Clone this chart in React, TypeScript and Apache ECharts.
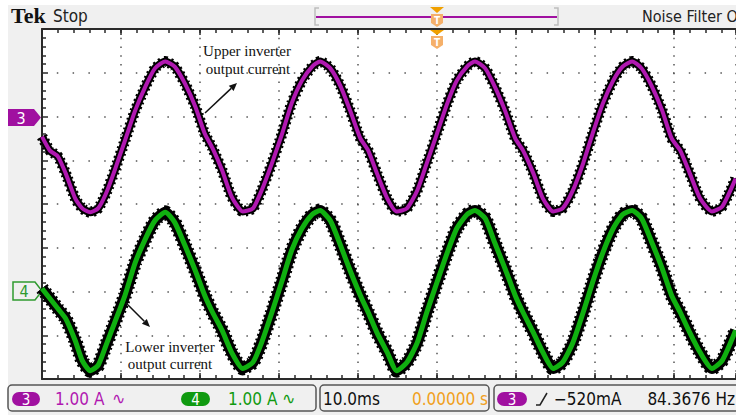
import React, { useEffect, useRef } from "react";
import * as echarts from "echarts";

// Time axis (ms), trigger at 0, 10 ms/div
const timeMs = [-50.0,-49.0,-48.0,-47.0,-45.8,-44.9,-43.9,-42.9,-41.9,-40.8,-39.5,-38.2,-36.9,-35.7,-34.4,-33.2,-31.9,-30.6,-29.4,-28.4,-27.2,-26.0,-24.6,-23.3,-22.2,-20.9,-19.6,-18.4,-17.1,-15.8,-14.8,-13.5,-12.2,-11.0,-9.7,-8.7,-7.6,-6.3,-5.1,-3.8,-2.5,-1.3,0.0,1.3,2.5,3.8,4.8,6.1,7.3,8.6,9.9,10.9,12.2,13.4,14.7,15.9,17.2,18.5,19.7,21.0,22.3,23.5,24.7,25.9,27.2,28.5,29.7,30.8,32.0,33.3,34.8,36.1,37.8];

// Channel 3 — upper inverter output current (A)
const ch3Amps = [-0.46,-0.78,-0.91,-1.30,-1.87,-2.10,-2.19,-2.10,-1.76,-1.23,-0.55,0.14,0.69,1.10,1.26,1.14,0.75,0.23,-0.39,-0.73,-1.23,-1.83,-2.17,-2.10,-1.69,-1.07,-0.39,0.30,0.82,1.14,1.26,1.10,0.69,0.14,-0.50,-0.78,-1.30,-1.87,-2.17,-2.10,-1.69,-1.07,-0.39,0.30,0.82,1.14,1.26,1.10,0.69,0.14,-0.50,-0.78,-1.30,-1.87,-2.17,-2.10,-1.69,-1.07,-0.39,0.30,0.82,1.14,1.26,1.10,0.69,0.14,-0.50,-0.78,-1.30,-1.87,-2.17,-2.06,-1.42];

// Channel 4 — lower inverter output current (A)
const ch4Amps = [0.07,-0.16,-0.39,-0.62,-1.12,-1.58,-1.81,-1.69,-1.23,-0.71,-0.09,0.66,1.21,1.62,1.81,1.58,1.05,0.48,-0.09,-0.48,-0.89,-1.39,-1.76,-1.62,-1.17,-0.48,0.25,0.94,1.44,1.76,1.85,1.62,1.05,0.48,-0.09,-0.48,-0.94,-1.39,-1.81,-1.62,-1.17,-0.48,0.21,0.89,1.44,1.76,1.85,1.67,1.12,0.53,-0.09,-0.48,-0.94,-1.39,-1.76,-1.62,-1.17,-0.48,0.21,0.89,1.44,1.76,1.85,1.67,1.12,0.53,-0.09,-0.48,-0.94,-1.39,-1.76,-1.58,-0.89];

const CH3_POS_DIV = 2;
const CH4_POS_DIV = -2;
const AMPS_PER_DIV = 1.0;
const X_MIN_MS = -50;
const X_VISIBLE_MAX_MS = 37.85; // screen is cut at the right
const MS_PER_DIV = 10;

const statusTexts = {
  ch3Scale: "1.00 A",
  ch4Scale: "1.00 A",
  timebase: "10.0ms",
  delay: "0.00000 s",
  trigLevel: "\u2212520mA",
  freq: "84.3676 Hz",
};

const NARROW = "'Liberation Sans Narrow', 'DejaVu Sans Condensed', 'Roboto Condensed', sans-serif";
const SERIF = "'Liberation Serif', 'Times New Roman', serif";
const MAG = "#b018b0";
const MAG_DARK = "#a010a0";
const GRN = "#10b010";
const GRN_DARK = "#109a10";
const FRAME = "#2a2a2a";

export default function App() {
  const ref = useRef<HTMLDivElement>(null);
  useEffect(() => {
    if (!ref.current) return;
    const chart = echarts.init(ref.current, undefined, { renderer: "svg" });
    const d3 = timeMs.map((t, i) => [t, ch3Amps[i] / AMPS_PER_DIV + CH3_POS_DIV]);
    const d4 = timeMs.map((t, i) => [t, ch4Amps[i] / AMPS_PER_DIV + CH4_POS_DIV]);
    const tickStyle = { color: FRAME, width: 1.5 };
    const xAx = (position: string, interval: number, len: number, line: boolean, split: boolean) => ({
      type: "value" as const,
      min: X_MIN_MS,
      max: X_VISIBLE_MAX_MS,
      interval,
      position,
      axisLabel: { show: false },
      axisLine: { show: line, onZero: false, lineStyle: { color: FRAME, width: 2 } },
      axisTick: { show: true, inside: true, length: len, lineStyle: tickStyle },
      splitLine: split
        ? { show: true, lineStyle: { color: "#555", width: 1.5, type: [1.5, 7.25] } }
        : { show: false },
    });
    const yAx = (position: string, line: boolean, split: boolean) => ({
      type: "value" as const,
      min: -4,
      max: 4,
      interval: 1,
      position,
      axisLabel: { show: false },
      axisLine: { show: line, onZero: false, lineStyle: { color: FRAME, width: 2 } },
      axisTick: { show: line, inside: true, length: 6, lineStyle: tickStyle },
      minorTick: { show: line, splitNumber: 5, length: 4, lineStyle: tickStyle },
      splitLine: split
        ? { show: true, lineStyle: { color: "#555", width: 1.5, type: [1.5, 14.3], dashOffset: 0.75 } }
        : { show: false },
    });
    const txt = (x: number, y: number, text: string, fill: string, size: number, extra: any = {}) => ({
      type: "text",
      x,
      y,
      style: { text, fill, fontSize: size, fontFamily: NARROW, textVerticalAlign: "middle", ...extra },
    });
    const ctext = (x: number, y: number, text: string, fill: string, size: number, z = 0, extra: any = {}) => ({
      type: "text",
      x,
      y,
      z,
      style: { text, fill, fontSize: size, fontFamily: NARROW, textAlign: "center", textVerticalAlign: "middle", ...extra },
    });
    const graphic: any[] = [
      { type: "rect", shape: { x: 0, y: 0, width: 8, height: 415 }, style: { fill: "#ffffff" } },
      { type: "rect", shape: { x: 0, y: 0, width: 736, height: 5 }, style: { fill: "#ffffff" } },
      // header
      { type: "text", x: 11, y: 15, style: { text: "Tek", fill: "#111", fontSize: 22, fontWeight: "bold", fontFamily: SERIF, textVerticalAlign: "middle" } },
      txt(53, 16, "Stop", "#222", 17),
      txt(642, 16, "Noise Filter Off", "#222", 16),
      // record bracket
      { type: "polyline", shape: { points: [[319, 8], [315, 8], [315, 25], [319, 25]] }, style: { stroke: "#bdbdbd", lineWidth: 1.5, fill: null } },
      { type: "polyline", shape: { points: [[554, 8], [558, 8], [558, 25], [554, 25]] }, style: { stroke: "#bdbdbd", lineWidth: 1.5, fill: null } },
      { type: "line", shape: { x1: 316, y1: 17, x2: 557, y2: 17 }, style: { stroke: MAG_DARK, lineWidth: 2 } },
      // trigger markers
      { type: "polygon", shape: { points: [[430, 7], [444, 7], [437, 13]] }, style: { fill: "#f0a000" } },
      { type: "polygon", shape: { points: [[431, 14], [443, 14], [443, 23], [437, 27], [431, 23]] }, style: { fill: "#f5b06a" } },
      ctext(437, 20, "T", "#fff", 10, 0, { fontWeight: "bold" }),
      { type: "polygon", z: 10, shape: { points: [[430, 30], [444, 30], [437, 35]] }, style: { fill: "#f0a000" } },
      { type: "polygon", z: 10, shape: { points: [[431, 36], [443, 36], [443, 45], [437, 49], [431, 45]] }, style: { fill: "#f5b06a" } },
      ctext(437, 42, "T", "#fff", 10, 11, { fontWeight: "bold" }),
      // channel ground markers
      { type: "polygon", shape: { points: [[8, 109], [34, 109], [41, 117.5], [34, 126], [8, 126]] }, style: { fill: MAG_DARK } },
      ctext(21, 118, "3", "#fff", 16),
      { type: "polygon", shape: { points: [[13, 282], [35, 282], [42, 291], [35, 300], [13, 300]] }, style: { fill: "#f0f0f0", stroke: "#2f9a2f", lineWidth: 1.5 } },
      ctext(24, 291.5, "4", "#2f9a2f", 16),
      // annotations
      ctext(247, 51, "Upper inverter", "#111", 15, 20, { fontFamily: SERIF }),
      ctext(248, 69, "output current", "#111", 15, 20, { fontFamily: SERIF }),
      { type: "line", z: 20, shape: { x1: 205, y1: 113, x2: 231.2, y2: 88.4 }, style: { stroke: "#111", lineWidth: 1.5 } },
      { type: "polygon", z: 20, shape: { points: [[237, 83], [233.6, 91.0], [228.8, 85.8]] }, style: { fill: "#111" } },
      ctext(170, 347, "Lower inverter", "#111", 15, 20, { fontFamily: SERIF }),
      ctext(170, 364, "output current", "#111", 15, 20, { fontFamily: SERIF }),
      { type: "line", z: 20, shape: { x1: 126, y1: 303, x2: 144.3, y2: 321.3 }, style: { stroke: "#111", lineWidth: 1.5 } },
      { type: "polygon", z: 20, shape: { points: [[150, 327], [141.9, 323.8], [146.8, 318.9]] }, style: { fill: "#111" } },
      // status bar
      { type: "rect", shape: { x: 8, y: 385, width: 308, height: 26, r: 4 }, style: { fill: "#f0f0f0", stroke: "#555", lineWidth: 1.5 } },
      { type: "rect", shape: { x: 320, y: 385, width: 169, height: 26, r: 4 }, style: { fill: "#f0f0f0", stroke: "#555", lineWidth: 1.5 } },
      { type: "rect", shape: { x: 494, y: 385, width: 250, height: 26, r: 4 }, style: { fill: "#f0f0f0", stroke: "#555", lineWidth: 1.5 } },
      { type: "rect", shape: { x: 12, y: 392, width: 28, height: 14, r: 7 }, style: { fill: MAG_DARK } },
      ctext(26, 399.5, "3", "#fff", 15),
      txt(55, 399, statusTexts.ch3Scale, MAG, 17),
      { type: "text", x: 112, y: 398, style: { text: "\u223F", fill: MAG, fontSize: 16, fontFamily: "DejaVu Sans", textVerticalAlign: "middle" } },
      { type: "rect", shape: { x: 181, y: 392, width: 29, height: 14, r: 7 }, style: { fill: GRN_DARK } },
      ctext(195.5, 399.5, "4", "#fff", 15),
      txt(228, 399, statusTexts.ch4Scale, GRN_DARK, 17),
      { type: "text", x: 282, y: 398, style: { text: "\u223F", fill: GRN_DARK, fontSize: 16, fontFamily: "DejaVu Sans", textVerticalAlign: "middle" } },
      txt(323, 399, statusTexts.timebase, "#111", 17),
      txt(488, 399, statusTexts.delay, "#f0a020", 17, { textAlign: "right" }),
      { type: "rect", shape: { x: 497, y: 392, width: 30, height: 14, r: 7 }, style: { fill: MAG_DARK } },
      ctext(512, 399.5, "3", "#fff", 15),
      { type: "polyline", shape: { points: [[536, 405], [540, 405], [547, 393]] }, style: { stroke: "#222", lineWidth: 1.5, fill: null } },
      txt(554, 399, statusTexts.trigLevel, "#111", 17),
      txt(735, 399, statusTexts.freq, "#111", 17, { textAlign: "right" }),
    ];
    const lineSeries = (data: number[][], color: string, width: number, z: number, type: any = "solid") => ({
      type: "line",
      xAxisIndex: 0,
      yAxisIndex: 0,
      data,
      showSymbol: false,
      symbol: "none",
      smooth: 0.2,
      lineStyle: { color, width, cap: "butt", join: "round", type },
      z,
    });
    chart.setOption({
      animation: false,
      backgroundColor: "#f0f0f0",
      grid: { left: 42, top: 29, right: 0, height: 350, show: true, backgroundColor: "#ffffff", borderWidth: 0 },
      xAxis: [
        xAx("bottom", MS_PER_DIV, 6, true, true),
        xAx("bottom", MS_PER_DIV / 5, 4, false, false),
        xAx("top", MS_PER_DIV, 6, true, false),
        xAx("top", MS_PER_DIV / 5, 4, false, false),
      ],
      yAxis: [yAx("left", true, true), yAx("right", false, false)],
      series: [
        lineSeries(d3, "#000", 11, 2, [2, 3]),
        lineSeries(d3, "#000", 8, 2),
        lineSeries(d3, MAG, 4, 3),
        lineSeries(d4, "#000", 14, 2, [2, 3]),
        lineSeries(d4, "#000", 11, 2),
        lineSeries(d4, GRN, 5, 3),
      ],
      graphic,
    });
    return () => chart.dispose();
  }, []);
  return <div ref={ref} style={{ position: "fixed", left: 0, top: 0, width: 736, height: 415 }} />;
}
